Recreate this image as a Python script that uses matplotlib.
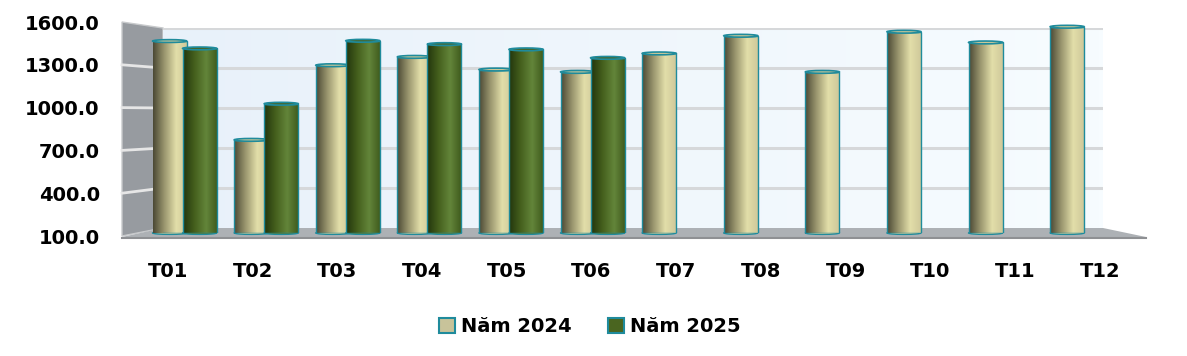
import numpy as np
import matplotlib
matplotlib.use("Agg")
import matplotlib.pyplot as plt
from matplotlib.colors import LinearSegmentedColormap
from matplotlib.patches import Ellipse, Polygon, Patch

# data
months = ["T01", "T02", "T03", "T04", "T05", "T06", "T07", "T08", "T09", "T10", "T11", "T12"]
y2024 = [1481, 770, 1307, 1367, 1276, 1259, 1392, 1519, 1259, 1548, 1471, 1584]
y2025 = [1428, 1030, 1483, 1459, 1421, 1360]
yticks = [100, 400, 700, 1000, 1300, 1600]

W, H = 1187, 356
EDGE = "#1f8b9c"
plt.rcParams["font.family"] = ["DejaVu Sans"]


def box(x0, y0, x1, y1):
    # pixel box (top-left origin) -> figure fraction
    return [x0 / W, 1 - y1 / H, (x1 - x0) / W, (y1 - y0) / H]


fig = plt.figure(figsize=(W / 100, H / 100), dpi=100)

# decoration layer: side wall + floor in pixel coordinates
deco = fig.add_axes([0, 0, 1, 1])
deco.set_xlim(0, W)
deco.set_ylim(H, 0)
deco.axis("off")
deco.set_zorder(0)


def y_front(v):
    return 236 - (v - 100) / 1500 * 214


def y_back(v):
    return 228 - (v - 100) / 1500 * 200


side = Polygon([(122, y_front(1600)), (163, y_back(1600)), (163, y_back(100)), (122, y_front(100))],
               closed=True, facecolor="#979ba0", edgecolor="#c8cacc", lw=1)
deco.add_patch(side)
for v in yticks[1:-1]:
    deco.plot([122, 163], [y_front(v), y_back(v)], color="#e6e6e6", lw=2)
floor = Polygon([(163, 228), (1103, 228), (1146, 237), (122, 237)], closed=True,
                facecolor="#adb1b5", edgecolor="none")
deco.add_patch(floor)
deco.plot([122, 1146], [237.5, 237.5], color="#8e9093", lw=1.5)

# back wall
wall = fig.add_axes(box(163, 28, 1103, 228))
wall.set_zorder(1)
wall.set_xlim(0, 1)
wall.set_ylim(100, 1600)
bg = np.linspace(0, 1, 256)[np.newaxis, :]
wall.imshow(bg, extent=[0, 1, 100, 1600], aspect="auto",
            cmap=LinearSegmentedColormap.from_list("wall", ["#e8f1fa", "#f7fcff"]), zorder=0)
for v in yticks[1:]:
    wall.axhline(v, color="#d6d8da", lw=2.2, zorder=1)
for s in wall.spines.values():
    s.set_visible(False)
wall.set_xticks([])
wall.set_yticks([])

# bars
ax = fig.add_axes(box(163, 24.5, 1103, 233))
ax.set_zorder(2)
ax.patch.set_alpha(0)
x = np.arange(len(months))
bw = 0.417
off = 0.184

cm24 = LinearSegmentedColormap.from_list("c24", ["#4a4834", "#9c9870", "#e2dea9", "#cdc799"])
cm25 = LinearSegmentedColormap.from_list("c25", ["#22350d", "#45601d", "#63853a", "#3d581b"])
grad = np.linspace(0, 1, 256)[np.newaxis, :]
ell_h = 20


def draw_bars(xs, vals, cmap, top_col, z):
    bars = ax.bar(xs, np.array(vals) - 100, bottom=100, width=bw, facecolor="none",
                  edgecolor=EDGE, lw=1.0, zorder=z + 0.2)
    for r in bars:
        x0, w, h = r.get_x(), r.get_width(), r.get_height()
        bot = Ellipse((x0 + w / 2, 100), w, ell_h, facecolor=cmap(0.55), edgecolor=EDGE,
                      lw=1.0, zorder=z, clip_on=False)
        ax.add_patch(bot)
        im = ax.imshow(grad, extent=[x0, x0 + w, 100, 100 + h], aspect="auto", cmap=cmap, zorder=z + 0.1)
        im.set_clip_path(r)
        top = Ellipse((x0 + w / 2, 100 + h), w, ell_h, facecolor=top_col, edgecolor=EDGE,
                      lw=1.2, zorder=z + 0.3, clip_on=False)
        ax.add_patch(top)


draw_bars(x - off, y2024, cm24, "#cfca98", 2)
draw_bars(x[:len(y2025)] + off, y2025, cm25, "#486424", 3)
ax.set_xlim(-0.265, 11.255)
ax.set_ylim(100, 1600)
ax.axis("off")

# front axis with labels
front = fig.add_axes(box(122, 22, 1146, 236))
front.set_zorder(3)
front.patch.set_alpha(0)
front.set_xlim((122 - 168) / 84.7, (1146 - 168) / 84.7)
front.set_ylim(100, 1600)
front.set_xticks(x)
front.set_xticklabels(months, fontsize=14, fontweight="bold")
front.set_yticks(yticks)
front.set_yticklabels([f"{v:.1f}" for v in yticks], fontsize=14, fontweight="bold")
front.tick_params(length=0)
front.tick_params(axis="y", pad=16)
front.tick_params(axis="x", pad=19)
for s in front.spines.values():
    s.set_visible(False)

handles = [Patch(facecolor="#c8c39a", edgecolor=EDGE, lw=1.5, label="Năm 2024"),
           Patch(facecolor="#4a6520", edgecolor=EDGE, lw=1.5, label="Năm 2025")]
fig.legend(handles=handles, loc="center", bbox_to_anchor=(0.497, 1 - 327 / H), ncol=2,
           frameon=False, handlelength=0.8, handleheight=0.8, handletextpad=0.3,
           columnspacing=1.9, prop={"size": 14, "weight": "bold"})

fig.savefig("out.png", dpi=100)
